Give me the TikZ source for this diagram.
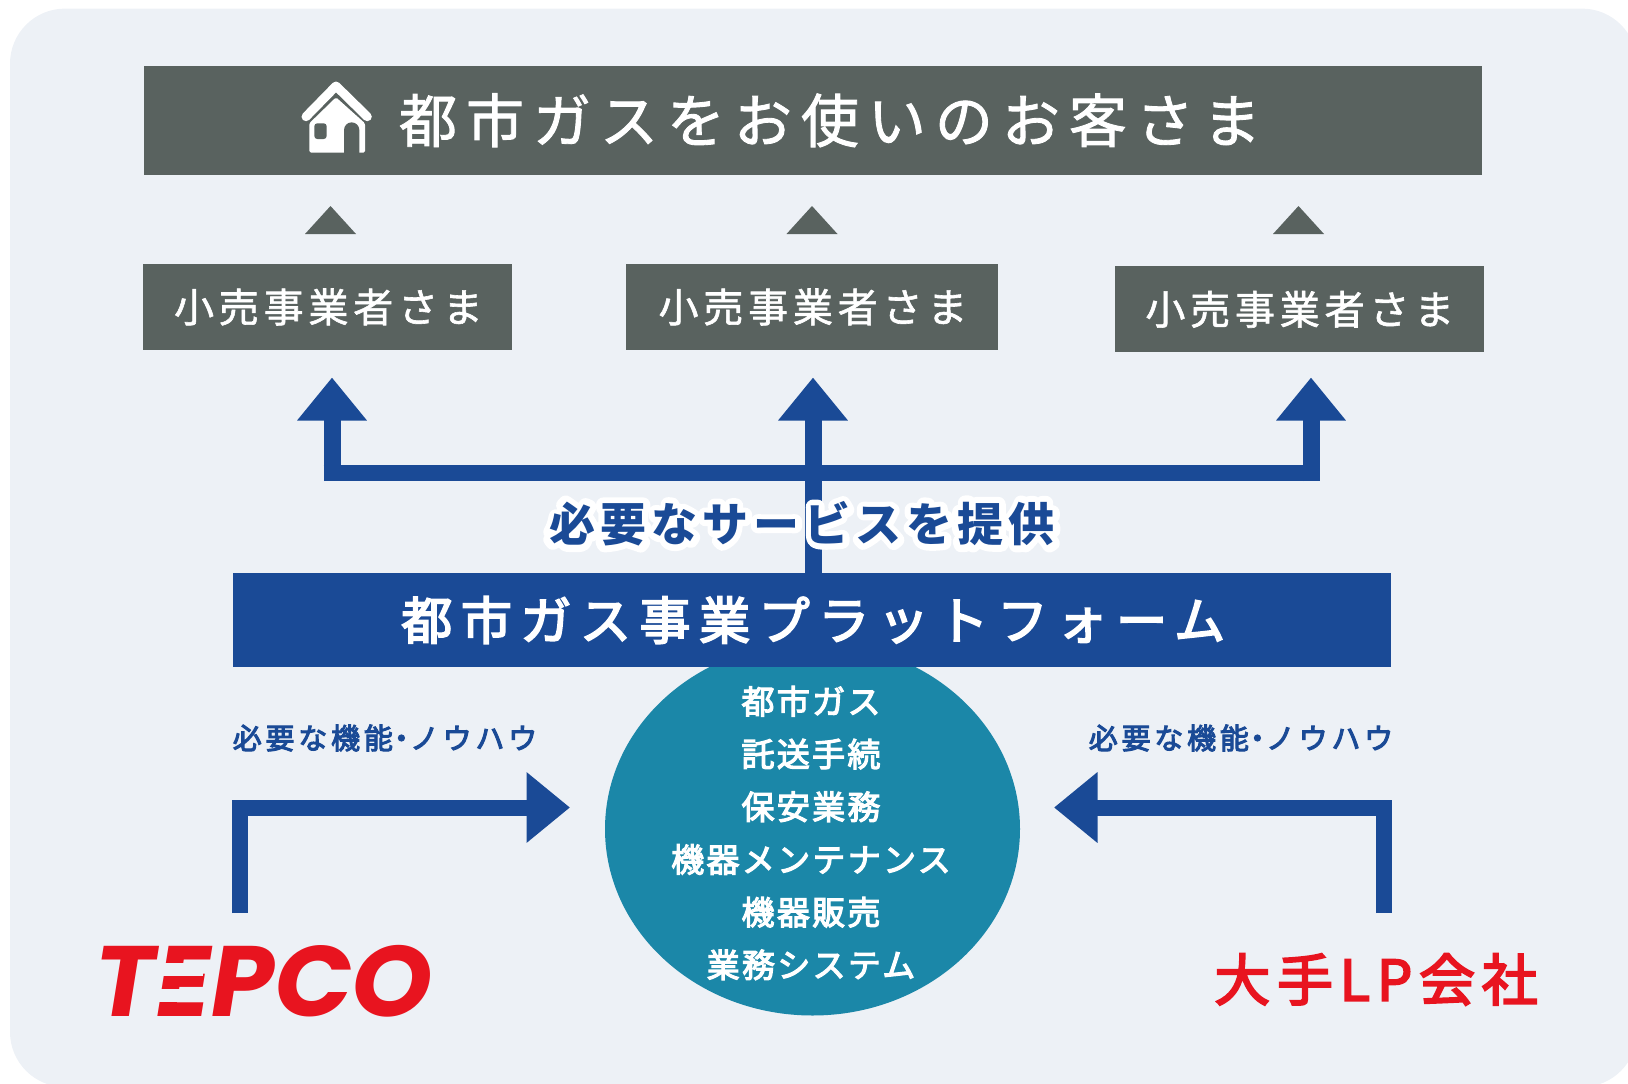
\documentclass[tikz,border=0pt]{standalone}
\usepackage{fontspec}
\usetikzlibrary{arrows.meta,shapes.geometric,calc}
\newfontfamily\jp[FakeBold=1.5]{Noto Sans CJK JP}
\newfontfamily\jps{Noto Sans CJK JP}
\newfontfamily\jpm[FakeBold=3.5]{Noto Sans CJK JP}
\newfontfamily\logofont[FakeSlant=0.16,FakeStretch=1.02]{Poppins}
\newfontfamily\halofont[FakeBold=32]{Noto Sans CJK JP}
\definecolor{pagebg}{HTML}{EDF1F6}
\definecolor{slate}{HTML}{59625F}
\definecolor{navy}{HTML}{1A4A96}
\definecolor{teal2}{HTML}{1B87A8}
\definecolor{brandred}{HTML}{E8141F}
\newcommand{\jt}[2]{\jp\fontsize{#1}{#1}\selectfont\addfontfeature{LetterSpace=#2}}
\newcommand{\jm}[2]{\jpm\fontsize{#1}{#1}\selectfont\addfontfeature{LetterSpace=#2}}
\tikzset{
  box/.style={fill=slate,inner sep=0pt,text=white,minimum height=86pt,minimum width=369pt,font=\jt{40}{12}},
  uparr/.style={line width=17pt,draw=navy,-{Triangle[length=43pt,width=67pt,fill=navy]}},
  elbow/.style={line width=16pt,draw=navy,line join=miter,-{Triangle[length=43.5pt,width=68pt,fill=navy]}},
  know/.style={text=navy,inner sep=0pt,font=\jm{29}{13}}
}
\begin{document}
\begin{tikzpicture}[x=1pt,y=-1pt]
\useasboundingbox (0,0) rectangle (1628,1084);
\fill[pagebg,rounded corners=55pt] (10,8.6) rectangle (1637,1087);
% title
\node[fill=slate,inner sep=0pt,text=white,minimum width=1338pt,minimum height=109pt,font=\jt{58}{15.5}] (title) at (813,120.3) {\hspace*{34pt}都市ガスをお使いのお客さま};
% house icon
\draw[white,line width=9pt,line cap=round,line join=round] (306,116.7) -- (336,86) -- (367.3,116.7);
\fill[white,rounded corners=1.5pt] (309.3,123.3) -- (336,97.3) -- (365,123.3) -- (365,152.5) -- (309.3,152.5) -- cycle;
\fill[slate] (344,153) -- (344,130) arc[start angle=180,end angle=0,radius=7.65pt] -- (359.3,153) -- cycle;
\fill[slate,rounded corners=3pt] (314.3,123.3) rectangle (326.7,139);
% retailers
\node[box] (r1) at (327,307) {\hspace*{3pt}小売事業者さま};
\node[box,minimum width=372pt] (r2) at (811.5,307) {\hspace*{3pt}小売事業者さま};
\node[box] (r3) at (1299.3,309.3) {\hspace*{1pt}小売事業者さま};
% small triangles
\coordinate (t1a) at (330.5,234); \coordinate (t1b) at (330.5,206);
\coordinate (t2a) at (812,234); \coordinate (t2b) at (812,206);
\coordinate (t3a) at (1298.5,234); \coordinate (t3b) at (1298.5,206);
\fill[slate] ($(t1a)+(-25.5,0)$) -- (t1b) -- ($(t1a)+(25.5,0)$) -- cycle;
\fill[slate] ($(t2a)+(-25.5,0)$) -- (t2b) -- ($(t2a)+(25.5,0)$) -- cycle;
\fill[slate] ($(t3a)+(-25.5,0)$) -- (t3b) -- ($(t3a)+(25.5,0)$) -- cycle;
% ellipse behind the platform
\node[ellipse,fill=teal2,inner sep=0pt,minimum width=415pt,minimum height=373pt] (circ) at (812.5,829) {};
\node[inner sep=0pt,text=white,align=center,font=\jpm\fontsize{33}{52.7}\selectfont\addfontfeature{LetterSpace=7}] (funcs) at (811,833) {都市ガス\\託送手続\\保安業務\\機器メンテナンス\\機器販売\\業務システム};
% platform
\node[fill=navy,inner sep=0pt,text=white,minimum width=1158.4pt,minimum height=94pt,font=\jm{51}{16.8}] (plat) at (811.8,620) {\hspace*{3pt}都市ガス事業プラットフォーム};
% blue tree
\coordinate (tipL) at (332,377.5);
\coordinate (tipM) at (813,377.5);
\coordinate (tipR) at (1311,377.5);
\coordinate (barL) at (332,481);
\coordinate (barR) at (1311,481);
\draw[navy,line width=16pt] (323.5,473) -- (1319.5,473);
\draw[uparr] (barL) -- (tipL);
\draw[uparr] (barR) -- (tipR);
\draw[uparr] (plat.north -| tipM) -- (tipM);
% halo + label
\begin{scope}[line join=round]
\node[inner sep=0pt,text=white,font=\halofont\fontsize{46}{46}\selectfont\addfontfeature{LetterSpace=11}] at (802,524) {必要なサービスを提供};
\end{scope}
\node[inner sep=0pt,text=navy,font=\jps\fontsize{46}{46}\selectfont\addfontfeature{LetterSpace=11}\bfseries] (serv) at (802,524) {必要なサービスを提供};
% side labels
\node[know] (kl) at (385,738) {必要な機能\kern-6pt ・\kern-6pt ノウハウ};
\node[know] (kr) at (1241,738) {必要な機能\kern-6pt ・\kern-6pt ノウハウ};
% elbows
\coordinate (sl) at (240.3,913);
\coordinate (el) at (570,807.5);
\coordinate (sr) at (1383.5,913);
\coordinate (er) at (1054,807.5);
\draw[elbow] (sl) |- (el);
\draw[elbow] (sr) |- (er);
% companies
\node[inner sep=0pt,text=brandred,font=\logofont\fontsize{100}{100}\selectfont\bfseries] (tepco) at (259.5,981.5) {TEPCO};
\fill[pagebg] (148,962.5) rectangle (203,975.5);
\fill[pagebg] (148,988.5) rectangle (203,1001.5);
\node[inner sep=0pt,text=brandred,font=\jm{56}{12}] (lp) at (1376,979.5) {大手LP会社};
\end{tikzpicture}
\end{document}
